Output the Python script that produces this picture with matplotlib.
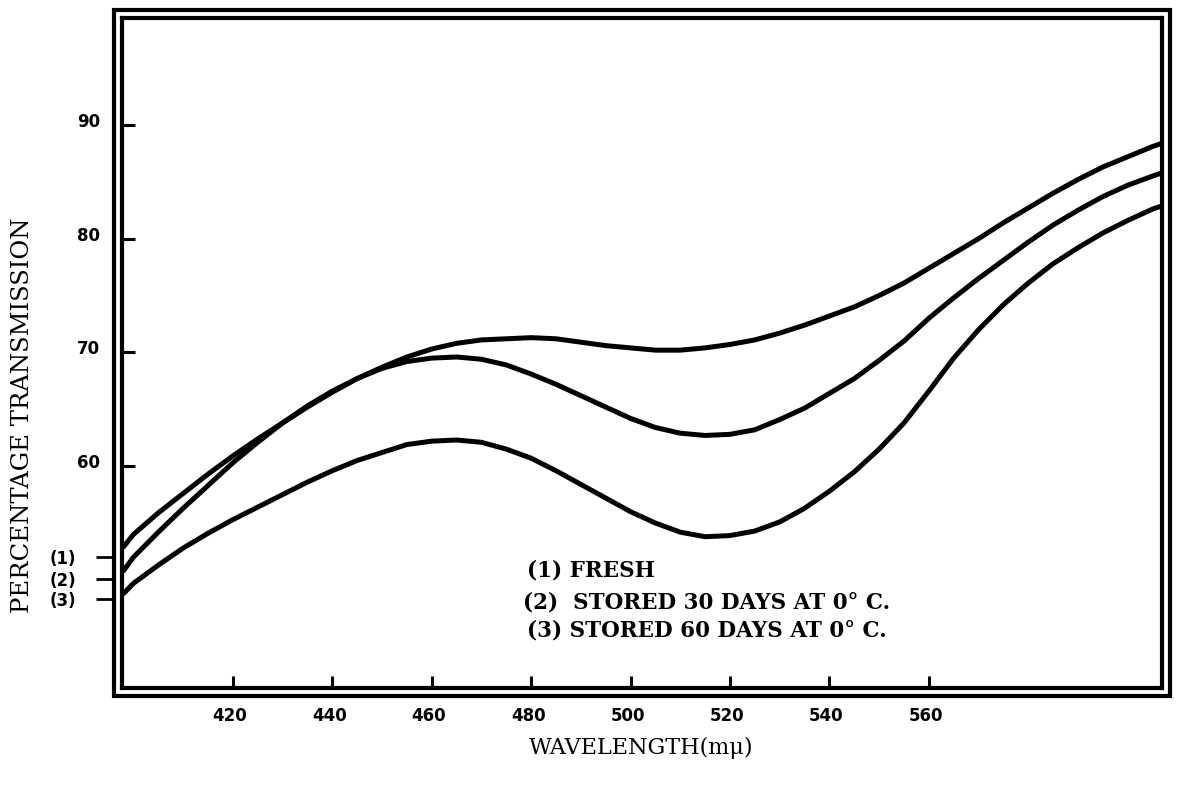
import numpy as np
import matplotlib
matplotlib.use("Agg")
import matplotlib.pyplot as plt
from matplotlib.patches import Rectangle
from matplotlib.transforms import ScaledTranslation

# wavelength (m-mu) and % transmission
wavelength = [398, 400, 405, 410, 415, 420, 425, 430, 435, 440, 445, 450, 455,
              460, 465, 470, 475, 480, 485, 490, 495, 500, 505, 510, 515, 520,
              525, 530, 535, 540, 545, 550, 555, 560, 565, 570, 575, 580, 585,
              590, 595, 600, 605, 607]

fresh = [52.9, 54.0, 55.9, 57.6, 59.3, 60.9, 62.4, 63.8, 65.2, 66.5, 67.7, 68.7,
         69.6, 70.3, 70.8, 71.1, 71.2, 71.3, 71.2, 70.9, 70.6, 70.4, 70.2, 70.2,
         70.4, 70.7, 71.1, 71.7, 72.4, 73.2, 74.0, 75.0, 76.1, 77.4, 78.7, 80.0,
         81.4, 82.7, 84.0, 85.2, 86.3, 87.2, 88.1, 88.4]

stored_30 = [50.8, 52.0, 54.2, 56.3, 58.3, 60.3, 62.1, 63.8, 65.3, 66.6, 67.7,
             68.6, 69.2, 69.5, 69.6, 69.4, 68.9, 68.1, 67.2, 66.2, 65.2, 64.2,
             63.4, 62.9, 62.7, 62.8, 63.2, 64.1, 65.1, 66.4, 67.7, 69.3, 71.0,
             73.0, 74.8, 76.5, 78.1, 79.7, 81.2, 82.5, 83.7, 84.7, 85.5, 85.8]

stored_60 = [48.8, 49.7, 51.3, 52.8, 54.1, 55.3, 56.4, 57.5, 58.6, 59.6, 60.5,
             61.2, 61.9, 62.2, 62.3, 62.1, 61.5, 60.7, 59.6, 58.4, 57.2, 56.0,
             55.0, 54.2, 53.8, 53.9, 54.3, 55.1, 56.3, 57.8, 59.5, 61.5, 63.8,
             66.6, 69.5, 72.0, 74.2, 76.1, 77.8, 79.2, 80.5, 81.6, 82.6, 82.9]

legend_lines = ["(1) FRESH",
                "(2)  STORED 30 DAYS AT 0\u00b0 C.",
                "(3) STORED 60 DAYS AT 0\u00b0 C."]

x_ticks = [420, 440, 460, 480, 500, 520, 540, 560]
y_ticks = [60, 70, 80, 90]
curve_marks = [52.0, 50.1, 48.3]
curve_mark_labels = ["(1)", "(2)", "(3)"]

W, H = 1177, 787
fig = plt.figure(figsize=(W / 100, H / 100), dpi=100)
ax = fig.add_axes([122 / W, 1 - 688 / H, 1040 / W, 670 / H])

for y in (fresh, stored_30, stored_60):
    ax.plot(wavelength, y, color="black", lw=3.6, solid_capstyle="round")

ax.set_xlim(397.7, 606.9)
ax.set_ylim(40.5, 99.4)

for s in ax.spines.values():
    s.set_linewidth(3)

ax.set_xticks(x_ticks)
ax.set_yticks(y_ticks)
ax.tick_params(direction="in", length=9, width=2.2, labelsize=12, colors="black")
ax.tick_params(axis="x", pad=14)
ax.tick_params(axis="y", pad=16)
for lab in ax.get_xticklabels():
    lab.set_fontweight("bold")
    lab.set_transform(lab.get_transform() + ScaledTranslation(-0.03, 0, fig.dpi_scale_trans))
for lab in ax.get_yticklabels():
    lab.set_fontweight("bold")
    lab.set_transform(lab.get_transform() + ScaledTranslation(0, 0.05, fig.dpi_scale_trans))

# curve start marks on the left, outside the frame
sec = ax.secondary_yaxis(-8 / 1040)
sec.set_yticks(curve_marks, curve_mark_labels)
sec.spines["left"].set_visible(False)
sec.tick_params(direction="out", length=13, width=2, pad=14, labelsize=12)
for lab in sec.get_yticklabels():
    lab.set_fontweight("bold")

# outer frame of the double border
fig.patches.append(Rectangle((114 / W, 1 - 696 / H), 1056 / W, 686 / H,
                             transform=fig.transFigure, fill=False,
                             lw=3, edgecolor="black"))

# legend lines, left edge and row in pixels
legend_x = [527, 523, 527]
legend_y = [570, 602, 630]
for line, lx, ly in zip(legend_lines, legend_x, legend_y):
    fig.text(lx / W, 1 - ly / H, line, fontsize=15.5, fontweight="bold",
             family="DejaVu Serif", va="center", ha="left")

fig.text(23 / W, 1 - 415 / H, "PERCENTAGE TRANSMISSION", rotation=90,
         ha="center", va="center", fontsize=17.5, family="DejaVu Serif")
fig.text(641 / W, 1 - 748 / H, "WAVELENGTH(m\u03bc)", ha="center", va="center",
         fontsize=16, family="DejaVu Serif")

fig.savefig("out.png", dpi=100)
